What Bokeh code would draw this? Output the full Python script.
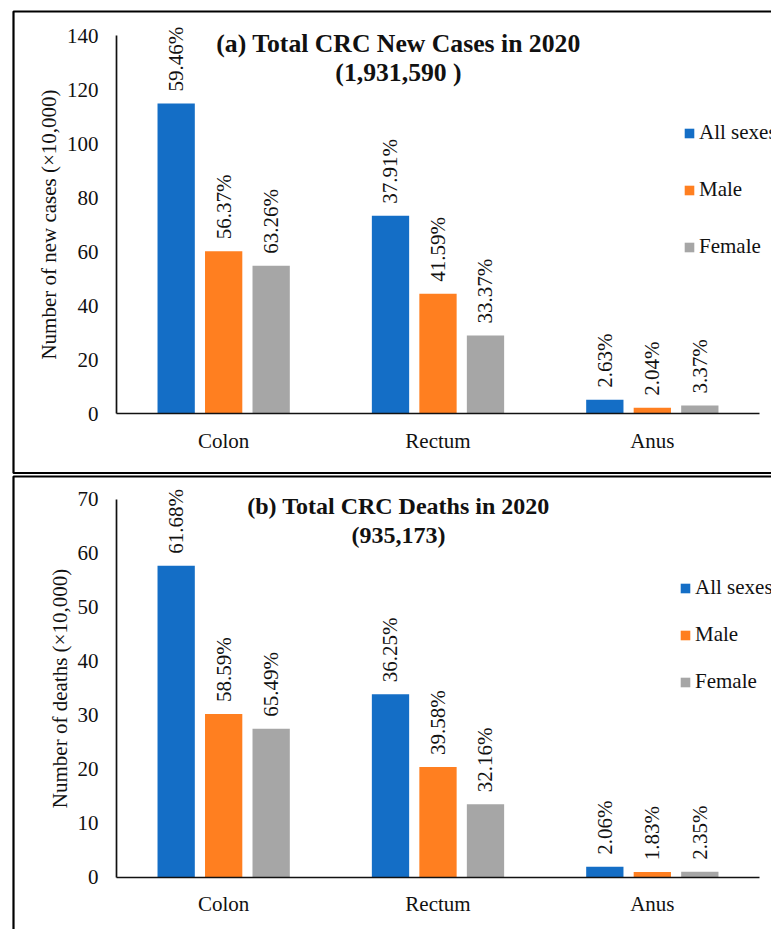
import math
from bokeh.plotting import figure
from bokeh.models import (ColumnDataSource, LabelSet, Label, Legend, LegendItem,
                          Range1d, BoxAnnotation, FixedTicker)
from bokeh.layouts import column
from bokeh.embed import file_html
from bokeh.resources import INLINE

# ---------------- data ----------------
sites = ["Colon", "Rectum", "Anus"]
series = ["All sexes", "Male", "Female"]

# (a) new cases, x10,000
cases_all = [114.85, 73.22, 5.09]
cases_male = [60.09, 44.33, 2.17]
cases_female = [54.76, 28.89, 2.92]
cases_pct_all = ["59.46%", "37.91%", "2.63%"]
cases_pct_male = ["56.37%", "41.59%", "2.04%"]
cases_pct_female = ["63.26%", "33.37%", "3.37%"]
cases_ticks = [0, 20, 40, 60, 80, 100, 120, 140]

# (b) deaths, x10,000
deaths_all = [57.68, 33.90, 1.93]
deaths_male = [30.22, 20.41, 0.94]
deaths_female = [27.47, 13.49, 0.99]
deaths_pct_all = ["61.68%", "36.25%", "2.06%"]
deaths_pct_male = ["58.59%", "39.58%", "1.83%"]
deaths_pct_female = ["65.49%", "32.16%", "2.35%"]
deaths_ticks = [0, 10, 20, 30, 40, 50, 60, 70]

COLORS = ["#146EC6", "#FF7F20", "#A6A6A6"]
FONT = "Liberation Serif"
TXT = "#111111"
OFFS = [-0.2216, 0.0, 0.2216]
BAR_W = 0.174
W = 771
CAT_PX = 214.33   # pixels per category
AX_LEFT = 116     # y-axis position (px)


def make_panel(vals, pcts, ymax, ticks, ylabel, t1, t2, tsize, t1y, t2y,
               leg_loc, leg_spacing, height, y0_px, px_per_unit, box):
    xr = Range1d(-AX_LEFT / CAT_PX, (W - AX_LEFT) / CAT_PX)
    yr = Range1d(-(height - y0_px) / px_per_unit, y0_px / px_per_unit)
    p = figure(x_range=xr, y_range=yr, width=W, height=height,
               output_backend="svg", toolbar_location=None,
               min_border=0, min_border_left=0, min_border_right=0,
               min_border_top=0, min_border_bottom=0)
    p.outline_line_color = None
    p.xgrid.visible = False
    p.ygrid.visible = False
    p.background_fill_color = "white"
    p.border_fill_color = "white"

    # panel frame (border line)
    p.add_layout(BoxAnnotation(left=box[0], top=box[1], right=box[2], bottom=box[3],
                               left_units="canvas", right_units="canvas",
                               top_units="canvas", bottom_units="canvas",
                               fill_alpha=0, line_color="#000000", line_alpha=1.0,
                               line_width=2.2, level="overlay"))

    centers = [i + 0.5 for i, _ in enumerate(sites)]
    renderers = []
    for i in range(3):
        src = ColumnDataSource(dict(x=[c + OFFS[i] for c in centers],
                                    top=vals[i], pct=pcts[i]))
        r = p.vbar(x="x", top="top", width=BAR_W, source=src,
                   fill_color=COLORS[i], line_color=None)
        renderers.append(r)
        lab = LabelSet(x="x", y="top", text="pct", source=src, angle=math.pi / 2,
                       text_align="left", text_baseline="middle", y_offset=12,
                       text_font=FONT, text_font_size="21px", text_color=TXT)
        p.add_layout(lab)

    # axes at fixed positions inside the full-canvas frame
    p.yaxis.fixed_location = 0
    p.xaxis.fixed_location = 0
    p.yaxis.bounds = (0, ymax)
    p.xaxis.bounds = (0, len(sites))
    p.yaxis.ticker = FixedTicker(ticks=ticks)
    p.xaxis.ticker = FixedTicker(ticks=centers)
    p.xaxis.major_label_overrides = {c: s for c, s in zip(centers, sites)}
    p.yaxis.axis_label = ylabel
    p.yaxis.axis_label_text_font = FONT
    p.yaxis.axis_label_text_font_size = "21px"
    p.yaxis.axis_label_text_font_style = "normal"
    p.yaxis.axis_label_text_color = TXT
    p.yaxis.axis_label_standoff = 3
    for ax in (p.xaxis, p.yaxis):
        ax.major_tick_line_color = None
        ax.minor_tick_line_color = None
        ax.major_tick_out = 0
        ax.major_tick_in = 0
        ax.minor_tick_out = 0
        ax.axis_line_color = "#111111"
        ax.axis_line_width = 1.7
        ax.major_label_text_font = FONT
        ax.major_label_text_font_size = "21px"
        ax.major_label_text_color = TXT
    p.yaxis.major_label_standoff = 18
    p.xaxis.major_label_standoff = 15

    # title inside plot
    xc = (398 - AX_LEFT) / CAT_PX
    for ty, tt in ((t1y, t1), (t2y, t2)):
        p.add_layout(Label(x=xc, y=ty, text=tt, text_align="center",
                           text_baseline="alphabetic", text_font=FONT,
                           text_font_size=tsize, text_font_style="bold",
                           text_color=TXT))

    legend = Legend(items=[LegendItem(label=series[i], renderers=[renderers[i]])
                           for i in range(3)],
                    location=leg_loc, orientation="vertical",
                    background_fill_alpha=0, border_line_color=None,
                    padding=0, margin=0, spacing=leg_spacing,
                    glyph_width=12, glyph_height=12, label_standoff=4,
                    label_text_font=FONT, label_text_font_size="21px",
                    label_text_color=TXT)
    p.add_layout(legend)
    return p


p1 = make_panel([cases_all, cases_male, cases_female],
                [cases_pct_all, cases_pct_male, cases_pct_female],
                140, cases_ticks, "Number of new cases (\u00d710,000)",
                "(a) Total CRC New Cases in 2020", "(1,931,590 )", "25.7px",
                137.0, 126.3, (683, 215), 32, 474, 413, 2.7,
                (13, 11, 900, 472.5))

p2 = make_panel([deaths_all, deaths_male, deaths_female],
                [deaths_pct_all, deaths_pct_male, deaths_pct_female],
                70, deaths_ticks, "Number of deaths (\u00d710,000)",
                "(b) Total CRC Deaths in 2020", "(935,173)", "24px",
                68.66, 63.3, (679, 235), 22, 455, 402.7, 5.4,
                (13, 2, 900, 1000))

layout = column(p1, p2, spacing=0)
open("out.html", "w").write(file_html(layout, INLINE))
